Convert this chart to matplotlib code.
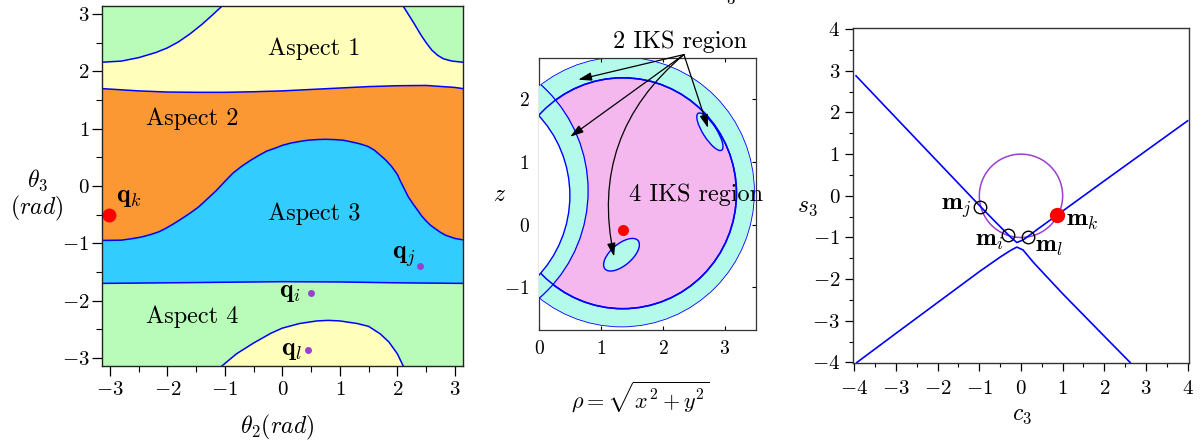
import numpy as np
import matplotlib
matplotlib.use("Agg")
import matplotlib.pyplot as plt
from matplotlib.patches import Circle, Ellipse

plt.rcParams['mathtext.fontset'] = 'cm'
plt.rcParams['axes.formatter.use_mathtext'] = True
plt.rcParams['font.family'] = ['cmr10', 'DejaVu Serif']

# ---------------- Panel 1 data (theta2, theta3) ----------------
b12_t2 = [-3.14, -2.5, -2.0, -1.5, -1.0, -0.5, 0.0, 0.5, 1.0, 1.5, 2.0, 2.5, 3.0, 3.14]
b12_t3 = [1.70, 1.66, 1.64, 1.635, 1.635, 1.645, 1.66, 1.685, 1.71, 1.735, 1.75, 1.755, 1.72, 1.70]

b23_t2 = [-3.14, -2.8, -2.62, -2.45, -2.3, -2.15, -2.03, -1.9, -1.75, -1.6, -1.45, -1.3, -1.15,
          -1.0, -0.86, -0.7, -0.55, -0.4, -0.27, -0.1, 0.0, 0.15, 0.315, 0.45,
          0.6, 0.75, 0.9, 1.05, 1.2, 1.35, 1.49, 1.6, 1.7, 1.8, 1.9, 2.0, 2.05, 2.12, 2.19,
          2.27, 2.35, 2.42, 2.49, 2.57, 2.65, 2.75, 2.84, 3.0, 3.14]
b23_t3 = [-0.95, -0.945, -0.92, -0.89, -0.85, -0.80, -0.74, -0.665, -0.57, -0.47, -0.36,
          -0.22, -0.08, 0.08, 0.225, 0.35, 0.45, 0.54, 0.61, 0.67, 0.71, 0.75, 0.78, 0.80,
          0.81, 0.815, 0.81, 0.80, 0.77, 0.735, 0.69, 0.625, 0.54, 0.45, 0.34, 0.20, 0.09,
          -0.05, -0.19, -0.31, -0.42, -0.52, -0.60, -0.68, -0.74, -0.81, -0.86, -0.915, -0.94]

b34_t2 = [-3.14, -2.0, -1.0, 0.0, 1.0, 2.0, 3.14]
b34_t3 = [-1.70, -1.69, -1.68, -1.67, -1.675, -1.69, -1.70]

lc_t2 = [-3.14, -2.8, -2.5, -2.2, -2.0, -1.8, -1.6, -1.4, -1.2, -1.05]
lc_t3 = [2.16, 2.18, 2.24, 2.33, 2.41, 2.52, 2.66, 2.82, 3.0, 3.14]

rc_t2 = [2.1, 2.2, 2.3, 2.4, 2.5, 2.6, 2.7, 2.8, 2.95, 3.14]
rc_t3 = [3.14, 2.98, 2.82, 2.65, 2.50, 2.37, 2.28, 2.22, 2.18, 2.16]

bump_t2 = [-1.05, -0.8, -0.5, -0.2, 0.0, 0.3, 0.6, 0.8, 1.0, 1.3, 1.5, 1.7, 1.85, 2.0, 2.1]
bump_t3 = [-3.14, -2.93, -2.74, -2.57, -2.48, -2.40, -2.355, -2.345, -2.355, -2.40, -2.45,
           -2.58, -2.72, -2.93, -3.14]

aspect_labels = ["Aspect 1", "Aspect 2", "Aspect 3", "Aspect 4"]
aspect_pos = [(0.55, 2.40), (-1.57, 1.18), (0.55, -0.48), (-1.57, -2.29)]

q_names = [r"$\mathbf{q}_k$", r"$\mathbf{q}_j$", r"$\mathbf{q}_i$", r"$\mathbf{q}_l$"]
q_t2 = [-3.01, 2.40, 0.49, 0.45]
q_t3 = [-0.50, -1.39, -1.87, -2.87]

# ---------------- Panel 2 data (rho, z) ----------------
c_out = (1.33, 0.52, 2.15)     # centre rho, centre z, radius
c_mid = (1.35, 0.50, 1.84)
c_left = (-1.46, 0.54, 2.25)
c_hole = (-1.365, 0.465, 1.86)
ell_up = (2.76, 1.48, 0.70, 0.22, -57)   # centre, width, height, angle
ell_lo = (1.33, -0.48, 0.70, 0.34, 40)
red2 = (1.35, -0.085)
arrow_src = (2.34, 2.71)
arrow_dst = [(0.63, 2.31), (0.50, 1.40), (1.21, -0.51), (2.73, 1.54)]
arrow_rad = [0.0, 0.0, 0.3, 0.0]

# ---------------- Panel 3 data (c3, s3) ----------------
up_c = [-3.96, -3.0, -2.0, -1.0, -0.6, -0.4, -0.25, -0.1, 0.05, 0.2, 0.4, 0.87, 2.0, 3.0, 4.0]
up_s = [2.88, 1.87, 0.82, -0.23, -0.64, -0.84, -0.99, -1.12, -1.06, -0.95, -0.80, -0.46, 0.36, 1.08, 1.80]
lo_c = [-3.94, -3.0, -2.0, -1.0, -0.5, -0.25, -0.1, 0.05, 0.3, 1.0, 2.0, 2.62]
lo_s = [-4.0, -3.30, -2.56, -1.82, -1.47, -1.31, -1.23, -1.30, -1.60, -2.35, -3.37, -4.0]
unit_circle = (0.0, 0.0, 1.0)
m_names = [r"$\mathbf{m}_j$", r"$\mathbf{m}_i$", r"$\mathbf{m}_l$"]
m_c = [-0.98, -0.30, 0.16]
m_s = [-0.26, -0.94, -0.98]
mk = (0.87, -0.46)

GREEN = "#b9fcb9"
YELLOW = "#ffffbb"
ORANGE = "#fb9833"
SKY = "#33ccff"
CYAN = "#b4faeb"
MAGENTA = "#f4b8ef"
PURPLE = "#9b3fd0"
LBLUE = "#0000ff"

fig = plt.figure(figsize=(12.04, 4.47), dpi=100)

# ================= Panel 1 =================
ax1 = fig.add_axes([0.0845, 0.1812, 0.3001, 0.8054])
ax1.set_facecolor(GREEN)
yx = b12_t2 + rc_t2[::-1] + lc_t2[::-1]
yy = b12_t3 + rc_t3[::-1] + lc_t3[::-1]
ax1.fill(yx, yy, color=YELLOW, lw=0)
ax1.fill(b12_t2 + b23_t2[::-1], b12_t3 + b23_t3[::-1], color=ORANGE, lw=0)
ax1.fill(b23_t2 + b34_t2[::-1], b23_t3 + b34_t3[::-1], color=SKY, lw=0)
ax1.fill(bump_t2, bump_t3, color=YELLOW, lw=0)
for xs, ys in [(b12_t2, b12_t3), (b23_t2, b23_t3), (b34_t2, b34_t3),
               (lc_t2, lc_t3), (rc_t2, rc_t3), (bump_t2, bump_t3)]:
    ax1.plot(xs, ys, color=LBLUE, lw=1.1)
ax1.set_xlim(-np.pi, np.pi)
ax1.set_ylim(-np.pi, np.pi)
for lab, (x, y) in zip(aspect_labels, aspect_pos):
    ax1.text(x, y, lab, fontsize=17.5, ha='center', va='center', family='cmr10')
ax1.plot(q_t2[0], q_t3[0], 'o', color='red', ms=10, mec='none')
ax1.plot(q_t2[1:], q_t3[1:], 'o', color=PURPLE, ms=5, mec='none')
ax1.text(-2.89, -0.19, q_names[0], fontsize=18.5, ha='left', va='center')
ax1.text(2.32, -1.24, q_names[1], fontsize=18.5, ha='right', va='center')
ax1.text(0.33, -1.86, q_names[2], fontsize=18.5, ha='right', va='center')
ax1.text(0.35, -2.86, q_names[3], fontsize=18.5, ha='right', va='center')

ticks1 = [-3, -2, -1, 0, 1, 2, 3]
tlab1 = [r"$-3$", r"$-2$", r"$-1$", r"$0$", r"$1$", r"$2$", r"$3$"]
ax1.set_xticks(ticks1)
ax1.set_xticklabels(tlab1)
ax1.set_yticks(ticks1)
ax1.set_yticklabels(tlab1)
ax1.set_xticks(np.arange(-3, 3.01, 0.5), minor=True)
ax1.set_yticks(np.arange(-3, 3.01, 0.5), minor=True)
ax1.tick_params(which='major', direction='out', length=7, width=0.9, labelsize=15, pad=2)
ax1.tick_params(axis='x', which='major', pad=4)
ax1.tick_params(which='minor', direction='out', length=4, width=0.8)
for s in ax1.spines.values():
    s.set_linewidth(1.0)
    s.set_color('#222222')
fig.text(37/1204, 1 - 180/447, r"$\theta_3$", fontsize=17, ha='center', va='center')
fig.text(37/1204, 1 - 208/447, r"$(rad)$", fontsize=17, ha='center', va='center')
fig.text(277/1204, 1 - 427/447, r"$\theta_2(rad)$", fontsize=17, ha='center', va='center')

# ================= Panel 2 =================
ax2 = fig.add_axes([0.4479, 0.2617, 0.1797, 0.6092])
ax2.set_xlim(0, 3.5)
ax2.set_ylim(-1.68, 2.66)
p_out = Circle(c_out[:2], c_out[2], facecolor=CYAN, edgecolor=LBLUE, lw=0.6, zorder=1)
ax2.add_patch(p_out)
p_mid = Circle(c_mid[:2], c_mid[2], facecolor=MAGENTA, edgecolor=LBLUE, lw=1.1, zorder=2)
ax2.add_patch(p_mid)
p_left = Circle(c_left[:2], c_left[2], facecolor=CYAN, edgecolor='none', zorder=3)
ax2.add_patch(p_left)
p_left.set_clip_path(p_out)
p_left_e = Circle(c_left[:2], c_left[2], facecolor='none', edgecolor=LBLUE, lw=0.9, zorder=4)
ax2.add_patch(p_left_e)
p_left_e.set_clip_path(p_out)
p_mid_e = Circle(c_mid[:2], c_mid[2], facecolor='none', edgecolor=LBLUE, lw=1.1, zorder=4)
ax2.add_patch(p_mid_e)
p_hole = Circle(c_hole[:2], c_hole[2], facecolor='white', edgecolor=LBLUE, lw=1.0, zorder=5)
ax2.add_patch(p_hole)
for e in (ell_up, ell_lo):
    ax2.add_patch(Ellipse(e[:2], e[2], e[3], angle=e[4], facecolor=CYAN,
                          edgecolor=LBLUE, lw=1.0, zorder=6))
ax2.plot(*red2, 'o', color='red', ms=8, mec='none', zorder=7)
for dst, rad in zip(arrow_dst, arrow_rad):
    ax2.annotate("", xy=dst, xytext=arrow_src, xycoords='data', textcoords='data',
                 annotation_clip=False,
                 arrowprops=dict(arrowstyle="-|>,head_length=0.8,head_width=0.25",
                                 color='black', lw=0.9, shrinkA=0, shrinkB=0,
                                 connectionstyle=f"arc3,rad={rad}"), zorder=8)
ax2.text(2.27, 2.91, "2 IKS region", fontsize=17.5, ha='center', va='center',
         family='cmr10', clip_on=False)
ax2.text(2.53, 0.47, "4 IKS region", fontsize=17.5, ha='center', va='center',
         family='cmr10', clip_on=False, zorder=9)
ax2.set_xticks([0, 1, 2, 3])
ax2.set_xticklabels([r"$0$", r"$1$", r"$2$", r"$3$"])
ax2.set_yticks([-1, 0, 1, 2])
ax2.set_yticklabels([r"$-1$", r"$0$", r"$1$", r"$2$"])
ax2.tick_params(direction='in', length=3, width=0.8, labelsize=14, top=True, right=True, pad=7)
for s in ax2.spines.values():
    s.set_linewidth(0.9)
    s.set_color('#333333')
fig.text(500/1204, 1 - 195/447, r"$z$", fontsize=17, ha='center', va='center')
fig.text(640/1204, 1 - 397/447, r"$\rho=\sqrt{x^2+y^2}$", fontsize=16, ha='center', va='center')
fig.text(745/1204, 1 + 6/447, r"$d_3=2$", fontsize=17, ha='center', va='center')

# ================= Panel 3 =================
ax3 = fig.add_axes([0.7082, 0.1872, 0.2796, 0.7495])
ax3.plot(up_c, up_s, color=LBLUE, lw=1.2)
ax3.plot(lo_c, lo_s, color=LBLUE, lw=1.2)
ax3.add_patch(Circle(unit_circle[:2], unit_circle[2], facecolor='none', edgecolor=PURPLE, lw=1.1))
ax3.plot(m_c, m_s, 'o', mfc='none', mec='black', ms=9, mew=1.0)
ax3.plot(*mk, 'o', color='red', ms=11, mec='none')
ax3.text(-1.18, -0.30, m_names[0], fontsize=18, ha='right', va='center')
ax3.text(-0.40, -1.08, m_names[1], fontsize=18, ha='right', va='center')
ax3.text(0.33, -1.22, m_names[2], fontsize=18, ha='left', va='center')
ax3.text(1.08, -0.60, r"$\mathbf{m}_k$", fontsize=18, ha='left', va='center')
ax3.set_xlim(-4.04, 4.04)
ax3.set_ylim(-4.02, 4.02)
ticks3 = [-4, -3, -2, -1, 0, 1, 2, 3, 4]
tlab3 = [r"$-4$", r"$-3$", r"$-2$", r"$-1$", r"$0$", r"$1$", r"$2$", r"$3$", r"$4$"]
ax3.set_xticks(ticks3)
ax3.set_xticklabels(tlab3)
ax3.set_yticks(ticks3)
ax3.set_yticklabels(tlab3)
ax3.set_xticks(np.arange(-4, 4.01, 0.5), minor=True)
ax3.set_yticks(np.arange(-4, 4.01, 0.5), minor=True)
ax3.tick_params(which='major', direction='out', length=6, width=0.9, labelsize=15, pad=3)
ax3.tick_params(axis='x', which='major', pad=6)
ax3.tick_params(which='minor', direction='out', length=3, width=0.8)
for s in ax3.spines.values():
    s.set_linewidth(1.0)
    s.set_color('#333333')
fig.text(807/1204, 1 - 207/447, r"$s_3$", fontsize=17, ha='center', va='center')
fig.text(1022/1204, 1 - 415/447, r"$c_3$", fontsize=17, ha='center', va='center')

fig.savefig("out.png", dpi=100)
